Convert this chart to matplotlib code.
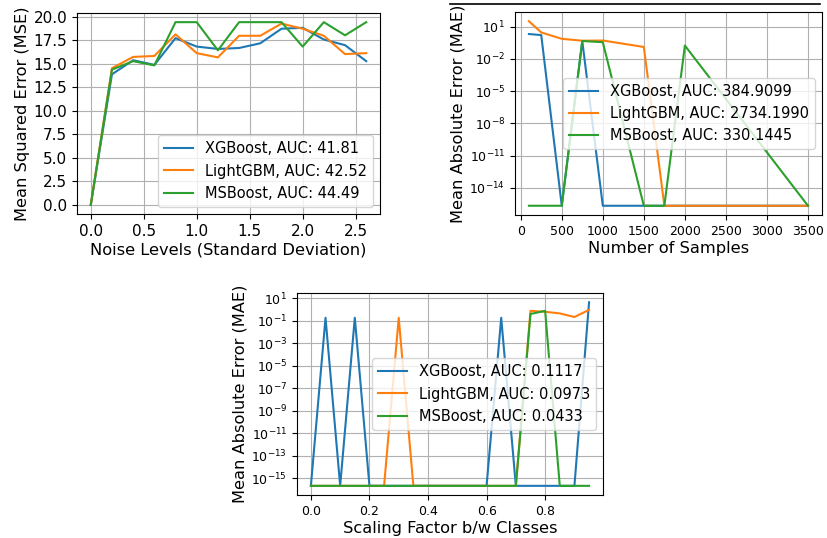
import numpy as np
import matplotlib.pyplot as plt
from matplotlib.lines import Line2D
from matplotlib.ticker import MultipleLocator

eps = 2.220446049250313e-16

# ruido
noise = [0.0, 0.2, 0.4, 0.6, 0.8, 1.0, 1.2, 1.4, 1.6, 1.8, 2.0, 2.2, 2.4, 2.6]
mse_xgb = [0.0, 13.9, 15.4, 14.9, 17.75, 16.85, 16.6, 16.7, 17.2, 18.75, 18.85, 17.6, 17.0, 15.3]
mse_lgbm = [0.0, 14.55, 15.75, 15.85, 18.15, 16.15, 15.7, 18.0, 18.0, 19.3, 18.75, 18.0, 16.05, 16.15]
mse_msb = [0.0, 14.4, 15.3, 14.85, 19.45, 19.45, 16.45, 19.45, 19.45, 19.45, 16.85, 19.45, 18.05, 19.45]

# numero de amostras
samples = [100, 250, 500, 750, 1000, 1500, 1750, 2000, 3500]
mae_s_xgb = [2.0, 1.6, eps, 0.45, eps, eps, eps, eps, eps]
mae_s_lgbm = [31.0, 2.8, 0.72, 0.48, 0.5, 0.126, eps, eps, eps]
mae_s_msb = [eps, eps, eps, 0.45, 0.35, eps, eps, 0.17, eps]

# fator de escala
scale = [0.0, 0.05, 0.1, 0.15, 0.2, 0.25, 0.3, 0.35, 0.4, 0.45,
         0.5, 0.55, 0.6, 0.65, 0.7, 0.75, 0.8, 0.85, 0.9, 0.95]
mae_c_xgb = [eps, 0.18, eps, 0.18, eps, eps, eps, eps, eps, eps,
             eps, eps, eps, 0.18, eps, eps, eps, eps, eps, 4.3]
mae_c_lgbm = [eps, eps, eps, eps, eps, eps, 0.18, eps, eps, eps,
              eps, eps, eps, eps, eps, 0.74, 0.61, 0.44, 0.21, 0.9]
mae_c_msb = [eps, eps, eps, eps, eps, eps, eps, eps, eps, eps,
             eps, eps, eps, eps, eps, 0.39, 0.74, eps, eps, eps]

plt.rcParams['font.size'] = 11
plt.rcParams['axes.labelsize'] = 11.7
plt.rcParams['legend.fontsize'] = 10.5
plt.rcParams['axes.labelpad'] = 2.5

fig = plt.figure(figsize=(8.27, 5.38), dpi=100)

ax1 = fig.add_axes([0.0931, 0.6022, 0.3664, 0.3736])
ax1.plot(noise, mse_xgb, label='XGBoost, AUC: 41.81')
ax1.plot(noise, mse_lgbm, label='LightGBM, AUC: 42.52')
ax1.plot(noise, mse_msb, label='MSBoost, AUC: 44.49')
ax1.yaxis.set_major_locator(MultipleLocator(2.5))
ax1.xaxis.set_major_locator(MultipleLocator(0.5))
ax1.tick_params(labelsize=11)
ax1.set_xlabel('Noise Levels (Standard Deviation)')
ax1.set_ylabel('Mean Squared Error (MSE)')
ax1.grid(True)
ax1.legend(loc='lower right')

ax2 = fig.add_axes([0.6227, 0.6004, 0.3712, 0.3773])
ax2.plot(samples, mae_s_xgb, label='XGBoost, AUC: 384.9099')
ax2.plot(samples, mae_s_lgbm, label='LightGBM, AUC: 2734.1990')
ax2.plot(samples, mae_s_msb, label='MSBoost, AUC: 330.1445')
ax2.set_yscale('log')
ax2.set_yticks([10.0 ** k for k in range(1, -15, -3)])
ax2.xaxis.set_major_locator(MultipleLocator(500))
ax2.tick_params(labelsize=9)
ax2.set_xlabel('Number of Samples')
ax2.set_ylabel('Mean Absolute Error (MAE)')
ax2.grid(True)
ax2.legend(loc='center right')

ax3 = fig.add_axes([0.3591, 0.0799, 0.3700, 0.3754])
ax3.plot(scale, mae_c_xgb, label='XGBoost, AUC: 0.1117')
ax3.plot(scale, mae_c_lgbm, label='LightGBM, AUC: 0.0973')
ax3.plot(scale, mae_c_msb, label='MSBoost, AUC: 0.0433')
ax3.set_yscale('log')
ax3.set_yticks([10.0 ** k for k in range(1, -16, -2)])
ax3.xaxis.set_major_locator(MultipleLocator(0.2))
ax3.tick_params(labelsize=9)
ax3.set_xlabel('Scaling Factor b/w Classes')
ax3.set_ylabel('Mean Absolute Error (MAE)')
ax3.grid(True)
ax3.legend(loc='center right')

# linha preta no topo
fig.add_artist(Line2D([0.544, 0.992], [0.993, 0.993], color='black', linewidth=1.2))

fig.savefig('out.png', dpi=100)
